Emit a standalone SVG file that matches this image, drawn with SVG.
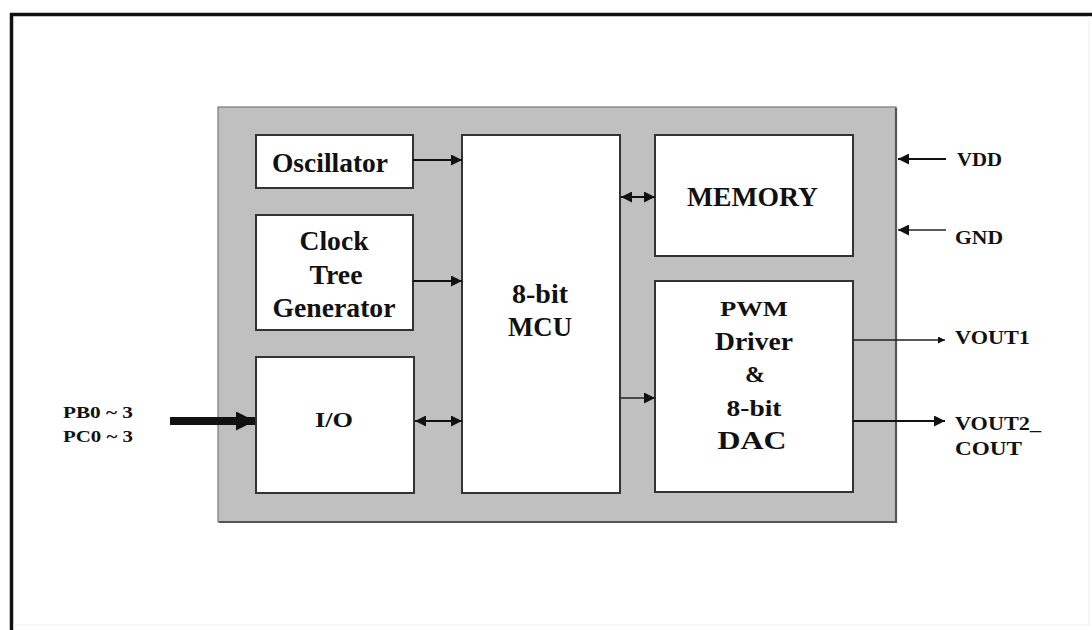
<svg xmlns="http://www.w3.org/2000/svg" width="1092" height="630" viewBox="0 0 1092 630">
<style>
.t{font-family:"Liberation Serif","Times New Roman",serif;font-weight:bold;fill:#111;text-anchor:middle}
.s{text-anchor:start}
.box{fill:#fff;stroke:#333;stroke-width:2}
.ln{stroke:#111;stroke-width:2;fill:none}
.lt{stroke:#222;stroke-width:1.3;fill:none}
</style>
<defs>
<marker id="ah" viewBox="0 0 10 10" refX="10" refY="5" markerWidth="7" markerHeight="7" orient="auto-start-reverse" markerUnits="userSpaceOnUse">
<path d="M0,0 L10,5 L0,10 z" fill="#111"/>
</marker>
<marker id="ahs" viewBox="0 0 10 10" refX="10" refY="5" markerWidth="12" markerHeight="11" orient="auto-start-reverse" markerUnits="userSpaceOnUse">
<path d="M0,0 L10,5 L0,10 z" fill="#111"/>
</marker>
<marker id="ahb" viewBox="0 0 10 10" refX="10" refY="5" markerWidth="22" markerHeight="19" orient="auto" markerUnits="userSpaceOnUse">
<path d="M0,0 L10,5 L0,10 z" fill="#111"/>
</marker>
</defs>
<rect x="0" y="0" width="1092" height="630" fill="#fff"/>
<path d="M11.5,630 L11.5,14.5 L1092,14.5" stroke="#111" stroke-width="3.5" fill="none"/>
<path d="M13,625 L1089,625 L1089,16" stroke="#eee" stroke-width="1" fill="none"/>
<g id="panel">
<rect x="218" y="107" width="678" height="415" fill="#c0c0c0" stroke="#777" stroke-width="1.2"/>
<path d="M219,522 L896,522 L896,108" stroke="#555" stroke-width="2.2" fill="none"/>
</g>
<g id="oscillator">
<rect class="box" x="256" y="135" width="157" height="53"/>
<text class="t" x="330" y="172" font-size="27" textLength="116" lengthAdjust="spacingAndGlyphs">Oscillator</text>
</g>
<g id="clock">
<rect class="box" x="256" y="215" width="157" height="115"/>
<text class="t" x="334" y="250" font-size="27" textLength="69" lengthAdjust="spacingAndGlyphs">Clock</text>
<text class="t" x="336" y="284" font-size="27" textLength="53" lengthAdjust="spacingAndGlyphs">Tree</text>
<text class="t" x="334" y="317" font-size="27" textLength="123" lengthAdjust="spacingAndGlyphs">Generator</text>
</g>
<g id="io">
<rect class="box" x="256" y="357" width="158" height="136"/>
<text class="t" x="334" y="427" font-size="22" textLength="38" lengthAdjust="spacingAndGlyphs">I/O</text>
</g>
<g id="mcu">
<rect class="box" x="462" y="135" width="158" height="358"/>
<text class="t" x="540" y="303" font-size="27" textLength="56" lengthAdjust="spacingAndGlyphs">8-bit</text>
<text class="t" x="540" y="336" font-size="27" textLength="64" lengthAdjust="spacingAndGlyphs">MCU</text>
</g>
<g id="memory">
<rect class="box" x="655" y="135" width="198" height="121"/>
<text class="t" x="752.5" y="206" font-size="27" textLength="131" lengthAdjust="spacingAndGlyphs">MEMORY</text>
</g>
<g id="pwm">
<rect class="box" x="655" y="281" width="198" height="211"/>
<text class="t" x="754" y="316" font-size="21" textLength="68" lengthAdjust="spacingAndGlyphs">PWM</text>
<text class="t" x="754" y="350" font-size="25" textLength="78" lengthAdjust="spacingAndGlyphs">Driver</text>
<text class="t" x="755" y="382" font-size="24">&amp;</text>
<text class="t" x="754" y="416" font-size="24" textLength="55" lengthAdjust="spacingAndGlyphs">8-bit</text>
<text class="t" x="752" y="449" font-size="26" textLength="69" lengthAdjust="spacingAndGlyphs">DAC</text>
</g>
<g id="labels">
<text class="t s" x="63" y="418" font-size="17" textLength="70" lengthAdjust="spacingAndGlyphs">PB0 ~ 3</text>
<text class="t s" x="63" y="442" font-size="17" textLength="70" lengthAdjust="spacingAndGlyphs">PC0 ~ 3</text>
<text class="t s" x="957" y="166" font-size="19" textLength="45" lengthAdjust="spacingAndGlyphs">VDD</text>
<text class="t s" x="955" y="244" font-size="19" textLength="48" lengthAdjust="spacingAndGlyphs">GND</text>
<text class="t s" x="955" y="344" font-size="19" textLength="75" lengthAdjust="spacingAndGlyphs">VOUT1</text>
<text class="t s" x="955" y="430" font-size="19" textLength="86" lengthAdjust="spacingAndGlyphs">VOUT2_</text>
<text class="t s" x="955" y="455" font-size="19" textLength="67" lengthAdjust="spacingAndGlyphs">COUT</text>
</g>
<g id="connectors">
<line class="ln" x1="413" y1="160" x2="462" y2="160" marker-end="url(#ahs)"/>
<line class="ln" x1="413" y1="281" x2="462" y2="281" marker-end="url(#ahs)"/>
<line class="ln" x1="621" y1="197" x2="655" y2="197" marker-start="url(#ahs)" marker-end="url(#ahs)"/>
<line class="ln" x1="415" y1="421" x2="462" y2="421" marker-start="url(#ahs)" marker-end="url(#ahs)"/>
<line class="lt" x1="621" y1="398" x2="655" y2="398" marker-end="url(#ahs)"/>
<line class="lt" x1="853" y1="340" x2="945" y2="340" marker-end="url(#ah)"/>
<line class="ln" x1="853" y1="421" x2="945" y2="421" marker-end="url(#ahs)"/>
<line class="ln" x1="946" y1="159" x2="898" y2="159" marker-end="url(#ahs)"/>
<line class="lt" x1="946" y1="230" x2="898" y2="230" marker-end="url(#ahs)"/>
<line x1="170" y1="421" x2="255" y2="421" stroke="#111" stroke-width="8" marker-end="url(#ahb)"/>
</g>
</svg>
